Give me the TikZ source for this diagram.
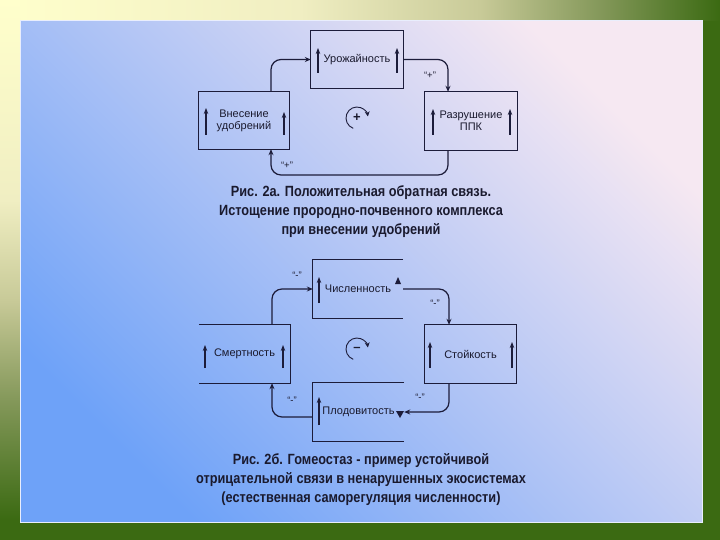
\documentclass[tikz,border=0pt]{standalone}
\usepackage{fontspec}
\setmainfont{Liberation Sans}
\newfontfamily\capfont[FakeStretch=0.86]{Liberation Sans Bold}
\usetikzlibrary{arrows.meta}
\definecolor{lc}{HTML}{1C1C3A}
\definecolor{tc}{HTML}{1A1A2E}
\definecolor{gA}{HTML}{FFFFCC}
\definecolor{gB}{HTML}{F0EEC2}
\definecolor{gC}{HTML}{C8CA98}
\definecolor{gD}{HTML}{84985A}
\definecolor{gE}{HTML}{3B6A12}
\definecolor{pA}{HTML}{6EA2F8}
\definecolor{pB}{HTML}{B6C8F8}
\definecolor{pC}{HTML}{F6E8F2}
\begin{document}
\begin{tikzpicture}[x=1pt,y=-1pt,
  box/.style={draw=lc, line width=1.1pt},
  boxn/.style={draw=none, inner sep=0pt, font=\fontsize{11}{13}\selectfont, text=tc, align=center},
  conn/.style={draw=lc, line width=1.2pt, rounded corners=10pt, -{Stealth[length=6pt,width=5pt]}},
  upar/.style={draw=lc, line width=1.1pt, -{Stealth[length=6pt,width=4.5pt]}},
  lbl/.style={font=\fontsize{9.5}{10}\selectfont, text=tc, inner sep=1pt},
  sym/.style={font=\bfseries\fontsize{13}{13}\selectfont, text=tc, inner sep=0pt},
  captxt/.style={font=\capfont\fontsize{14.8}{19}\selectfont, text=tc, align=center}]
\useasboundingbox (0,0) rectangle (720,540);
% slide background
\fill[gE] (0,0) rectangle (720,540);
\shade[left color=gA, right color=gB] (0,0) rectangle (300,21);
\shade[left color=gB, right color=gC] (300,0) rectangle (480,21);
\shade[left color=gC, right color=gD] (480,0) rectangle (600,21);
\shade[left color=gD, right color=gE] (600,0) rectangle (720,21);
\shade[top color=gA, bottom color=gB] (0,0) rectangle (20,200);
\shade[top color=gB, bottom color=gC] (0,200) rectangle (20,300);
\shade[top color=gC, bottom color=gD] (0,300) rectangle (20,400);
\shade[top color=gD, bottom color=gE] (0,400) rectangle (20,520);
% panel
\shade[bottom color=pA, middle color=pB, top color=pC, shading angle=-45] (20,21) rectangle (702,522);
\draw[white!70!pB, line width=1pt] (20,21) rectangle (702,522);

% ===== top diagram =====
\node[boxn, minimum width=92pt, minimum height=57pt] (U) at (357,59.5) {Урожайность};
\node[boxn, minimum width=90pt, minimum height=57pt] (V) at (244,120.5) {Внесение\\[-1pt]удобрений};
\node[boxn, minimum width=92pt, minimum height=58pt] (R) at (471,121) {Разрушение\\[-1pt]ППК};
\draw[box] (U.north west) rectangle (U.south east);
\draw[box] (V.north west) rectangle (V.south east);
\draw[box] (R.north west) rectangle (R.south east);
\draw[upar] (206,135) -- (206,108);
\draw[upar] (284,135) -- (284,112);
\draw[upar] (318,73) -- (318,48);
\draw[upar, line width=1.8pt] (397,73) -- (397,48);
\draw[upar] (433,135) -- (433,109);
\draw[upar] (510,135) -- (510,109);
\coordinate (c1) at (360,175);
\draw[conn] ([xshift=27pt]V.north) |- (U.west);
\draw[conn] (U.east) -| ([xshift=-23pt]R.north);
\draw[conn] ([xshift=-23pt]R.south) |- (c1) -| ([xshift=27pt]V.south);
\node[lbl] (l1) at (430,75) {“+”};
\node[lbl] (l2) at (287,165) {“+”};
\node[sym] (pc) at (357,118) {+};
\draw[lc, line width=0.9pt, -{Stealth[length=5pt,width=5pt]}] ([shift={(-250:11)}]pc.center) arc[start angle=-250, end angle=-8, radius=11];

% ===== bottom diagram =====
\node[boxn, minimum width=90pt, minimum height=58pt] (Ch) at (358,289) {Численность};
\node[boxn, minimum width=91pt, minimum height=58pt] (Sm) at (244.5,354) {\raisebox{-4pt}{Смертность}};
\node[boxn, minimum width=91pt, minimum height=58pt] (St) at (470.5,354) {\raisebox{-4pt}{Стойкость}};
\node[boxn, minimum width=91pt, minimum height=58pt] (Pl) at (358.5,412) {Плодовитость};
\draw[box] (Ch.north east) -- (Ch.north west) -- (Ch.south west) -- (Ch.south east);
\draw[box] (Sm.north west) -- (Sm.north east) -- (Sm.south east) -- (Sm.south west);
\draw[box] (St.north west) rectangle (St.south east);
\draw[box] (Pl.north east) -- (Pl.north west) -- (Pl.south west) -- (Pl.south east);
\draw[upar, line width=1.6pt] (319,303) -- (319,277);
\fill[lc] (395,284) -- (401,284) -- (398,277) -- cycle;
\draw[upar] (205,368) -- (205,345);
\draw[upar] (283,368) -- (283,345);
\draw[upar] (430,368) -- (430,342);
\draw[upar] (512,368) -- (512,342);
\draw[upar, line width=1.6pt] (319,425) -- (319,397);
\fill[lc] (396,411) -- (404,411) -- (400,418) -- cycle;
\draw[conn] ([xshift=27.5pt]Sm.north) |- (Ch.west);
\draw[conn] (Ch.east) -| ([xshift=-21.5pt]St.north);
\draw[conn] ([xshift=-21.5pt]St.south) |- (Pl.east);
\draw[conn] ([yshift=-5pt]Pl.west) -| ([xshift=27.5pt]Sm.south);
\node[lbl] (m1) at (297,275) {“-”};
\node[lbl] (m2) at (435,303) {“-”};
\node[lbl] (m3) at (420,397) {“-”};
\node[lbl] (m4) at (292,400) {“-”};
\node[sym] (mc) at (357,349) {–};
\draw[lc, line width=0.9pt, -{Stealth[length=5pt,width=5pt]}] ([shift={(-250:11)}]mc.center) arc[start angle=-250, end angle=-8, radius=11];

% captions
\node[captxt] (cap1) at (361,212) {Рис. 2а. Положительная обратная связь.\\Истощение прородно-почвенного комплекса\\при внесении удобрений};
\node[captxt] (cap2) at (361,480) {Рис. 2б. Гомеостаз - пример устойчивой\\отрицательной связи в ненарушенных экосистемах\\(естественная саморегуляция численности)};
\end{tikzpicture}
\end{document}
